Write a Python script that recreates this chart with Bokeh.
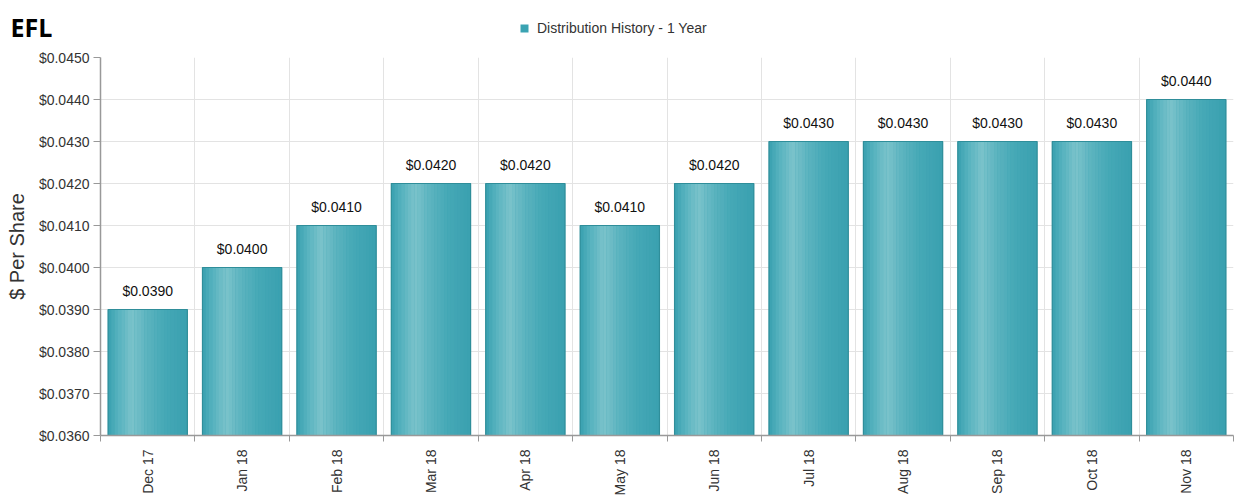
import math
from bokeh.plotting import figure
from bokeh.layouts import column, row
from bokeh.models import (ColumnDataSource, FixedTicker, NumeralTickFormatter,
                          Label, Legend, LegendItem, Range1d)
from bokeh.transform import dodge
from bokeh.embed import file_html
from bokeh.resources import INLINE

# ---- data ----
months = ["Dec 17", "Jan 18", "Feb 18", "Mar 18", "Apr 18", "May 18",
          "Jun 18", "Jul 18", "Aug 18", "Sep 18", "Oct 18", "Nov 18"]
distribution = [0.0390, 0.0400, 0.0410, 0.0420, 0.0420, 0.0410,
                0.0420, 0.0430, 0.0430, 0.0430, 0.0430, 0.0440]
y_ticks = [0.036, 0.037, 0.038, 0.039, 0.040, 0.041, 0.042, 0.043, 0.044, 0.045]
series_name = "Distribution History - 1 Year"
title_text = "EFL"
y_label = "$ Per Share"

# ---- layout ----
W = 1240
LEFT = 100
HEAD_H = 47
MAIN_H = 453
y0, y1 = y_ticks[0], y_ticks[-1]
n = len(months)
pos = [i + 0.5 for i in range(n)]
bounds = list(range(n + 1))

FONT = "Liberation Sans"
bar_w = 0.84
base_color = "#3aa3b2"

src = ColumnDataSource(dict(
    x=pos, top=distribution, month=months,
    label=["${:.4f}".format(v) for v in distribution],
))

def blank(width, height):
    f = figure(width=width, height=height, output_backend="svg",
               toolbar_location=None, x_range=Range1d(0, n), y_range=Range1d(1, 2),
               x_axis_type=None, y_axis_type=None,
               min_border_left=0, min_border_right=0,
               min_border_top=0, min_border_bottom=0)
    f.outline_line_color = None
    f.background_fill_color = "white"
    f.border_fill_color = "white"
    return f

# ---- header: title ----
tfig = blank(LEFT, HEAD_H)
tfig.add_layout(Label(x=10, y=HEAD_H - 26, x_units="screen", y_units="screen",
                      text=title_text, text_font="Open Sans",
                      text_font_style="bold", text_font_size="25px",
                      text_color="#000000", text_baseline="middle"))

# ---- header: legend ----
lfig = blank(W - LEFT, HEAD_H)
legend_r = lfig.vbar(x="x", top="top", bottom=y0, width=bar_w, source=src,
                     fill_color=base_color, line_color=None)
legend = Legend(items=[LegendItem(label=series_name, renderers=[legend_r])],
                location=(419, 11), orientation="horizontal",
                glyph_width=10, glyph_height=10, label_standoff=8,
                padding=0, margin=0, border_line_color=None,
                background_fill_alpha=0, label_text_font=FONT,
                label_text_font_size="14px", label_text_color="#333333")
lfig.add_layout(legend, "center")

# ---- main chart ----
p = figure(width=W, height=MAIN_H, output_backend="svg", toolbar_location=None,
           x_range=Range1d(0, n), y_range=Range1d(y0, y1),
           min_border_left=LEFT, min_border_right=7,
           min_border_top=10, min_border_bottom=65)
p.background_fill_color = "white"
p.border_fill_color = "white"
p.outline_line_color = None

# base bar
p.vbar(x="x", top="top", bottom=y0, width=bar_w, source=src,
       fill_color=base_color, line_color=None)

# gradient strips
stops = [(0.0, (0x38, 0xa0, 0xaf)), (0.12, (0x55, 0xb1, 0xbe)),
         (0.30, (0x7b, 0xc3, 0xcb)), (0.50, (0x5b, 0xb3, 0xbf)),
         (0.72, (0x45, 0xa8, 0xb6)), (1.0, (0x3a, 0xa0, 0xaf))]

def col_at(t):
    for (t0, c0), (t1, c1) in zip(stops[:-1], stops[1:]):
        if t0 <= t <= t1:
            f = (t - t0) / (t1 - t0)
            c = [round(a + (b - a) * f) for a, b in zip(c0, c1)]
            return "#%02x%02x%02x" % tuple(c)
    return "#%02x%02x%02x" % stops[-1][1]

NS = 24
sw = bar_w / NS
for k in range(NS):
    t = (k + 0.5) / NS
    off = -bar_w / 2 + (k + 0.5) * sw
    p.vbar(x=dodge("x", off), top="top", bottom=y0, width=sw * 1.06, source=src,
           fill_color=col_at(t), line_color=None)

# outline
p.vbar(x="x", top="top", bottom=y0, width=bar_w, source=src,
       fill_color=None, line_color="#2f8e9a", line_width=1.2)

# value labels
p.text(x="x", y="top", text="label", source=src, text_align="center",
       text_baseline="bottom", y_offset=-11, text_font_size="14px",
       text_color="#111111", text_font={"value": FONT})

# axes
p.xaxis.ticker = FixedTicker(ticks=pos, minor_ticks=bounds)
p.xaxis.major_label_overrides = {x: m for x, m in zip(pos, months)}
p.xaxis.major_label_orientation = math.pi / 2
p.xaxis.major_tick_line_color = None
p.xaxis.major_tick_out = 0
p.xaxis.major_tick_in = 0
p.xaxis.minor_tick_out = 6
p.xaxis.minor_tick_in = 0
p.xaxis.minor_tick_line_color = "#999999"
p.xaxis.major_label_standoff = 8

p.yaxis.ticker = FixedTicker(ticks=y_ticks, minor_ticks=[])
p.yaxis.formatter = NumeralTickFormatter(format="$0.0000")
p.yaxis.major_tick_out = 7
p.yaxis.major_tick_in = 0
p.yaxis.major_tick_line_color = "#999999"
p.yaxis.major_label_standoff = 4
p.yaxis.axis_label = y_label
p.yaxis.axis_label_text_font = FONT
p.yaxis.axis_label_text_font_size = "20px"
p.yaxis.axis_label_text_font_style = "normal"
p.yaxis.axis_label_text_color = "#333333"
p.yaxis.axis_label_standoff = 8

for ax in (p.xaxis, p.yaxis):
    ax.axis_line_color = "#999999"
    ax.axis_line_width = 1.5
    ax.major_label_text_font = FONT
    ax.major_label_text_color = "#333333"
    ax.major_label_text_font_size = "14px"

p.xgrid.ticker = FixedTicker(ticks=bounds)
p.ygrid.ticker = FixedTicker(ticks=y_ticks)
p.xgrid.grid_line_color = "#e3e3e3"
p.ygrid.grid_line_color = "#e3e3e3"

layout = column(row(tfig, lfig, spacing=0), p, spacing=0)
open("out.html", "w").write(file_html(layout, INLINE))
